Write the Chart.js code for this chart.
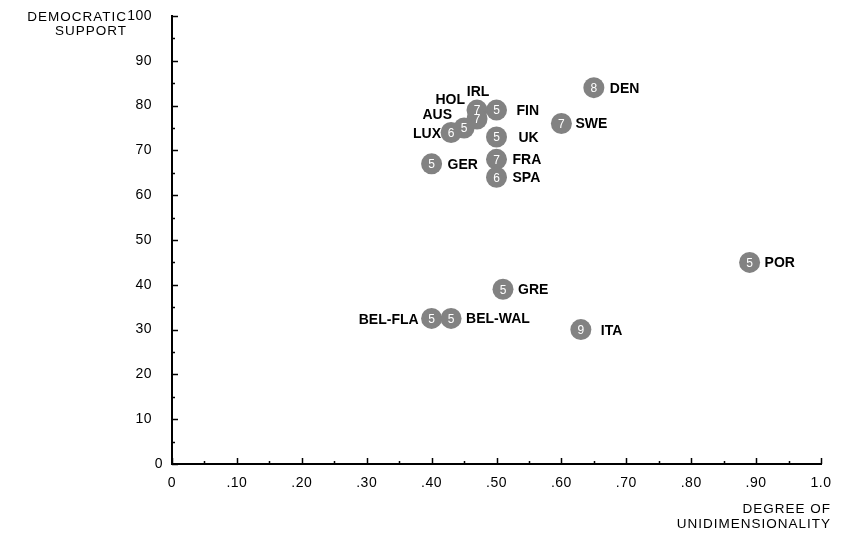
<!DOCTYPE html>
<html>
<head>
<meta charset="utf-8">
<style>
  html, body { margin: 0; padding: 0; background: #ffffff; }
  #wrap { width: 850px; height: 537px; }
</style>
<script src="https://cdn.jsdelivr.net/npm/chart.js@4/dist/chart.umd.min.js"></script>
</head>
<body>
<div id="wrap"><canvas id="chart" width="850" height="537"></canvas></div>
<script>
// Countries / regions
const countries = ['DEN', 'SWE', 'FIN', 'IRL', 'HOL', 'AUS', 'LUX', 'UK', 'FRA', 'SPA', 'GER',
                   'GRE', 'BEL-FLA', 'BEL-WAL', 'ITA', 'POR'];
// Degree of unidimensionality (x)
const unidimensionality = [0.65, 0.60, 0.50, 0.47, 0.47, 0.45, 0.43, 0.50, 0.50, 0.50, 0.40,
                           0.51, 0.40, 0.43, 0.63, 0.89];
// Democratic support (y)
const democraticSupport = [84, 76, 79, 79, 77, 75, 74, 73, 68, 64, 67,
                           39, 32.5, 32.5, 30, 45];
// Number printed inside each marker
const markerNumbers = [8, 7, 5, 7, 7, 5, 6, 5, 7, 6, 5,
                       5, 5, 5, 9, 5];
// Axis tick values
const xTicks = [0, 0.1, 0.2, 0.3, 0.4, 0.5, 0.6, 0.7, 0.8, 0.9, 1.0];
const yTicks = [0, 10, 20, 30, 40, 50, 60, 70, 80, 90, 100];

// Where each name sits relative to its marker: [dx, dy, align]
const labelPlacement = {
  'DEN': [16, 0, 'left'], 'SWE': [14, 0, 'left'], 'FIN': [20, 0, 'left'],
  'IRL': [1, -19, 'center'], 'HOL': [-12, -20, 'right'], 'AUS': [-12, -14, 'right'],
  'LUX': [-10, 1, 'right'], 'UK': [22, 0, 'left'], 'FRA': [16, 0, 'left'],
  'SPA': [16, 0, 'left'], 'GER': [16, 0, 'left'], 'GRE': [15, 0, 'left'],
  'BEL-FLA': [-13, 1, 'right'], 'BEL-WAL': [15, 0, 'left'], 'ITA': [20, 1, 'left'],
  'POR': [15, 0, 'left']
};

const points = unidimensionality.map((x, i) => ({ x: x, y: democraticSupport[i] }));
const FONT = '"Liberation Sans", Arial, Helvetica, sans-serif';

const fmtX = v => {
  if (Math.abs(v) < 1e-9) return '0';
  if (Math.abs(v - 1) < 1e-9) return '1.0';
  return v.toFixed(2).slice(1);
};

const decorations = {
  id: 'decorations',
  beforeDraw(chart) {
    chart.ctx.letterSpacing = '0.5px';
  },
  afterDatasetsDraw(chart) {
    const ctx = chart.ctx;
    const xs = chart.scales.x, ys = chart.scales.y;
    const x0 = xs.getPixelForValue(0), y0 = ys.getPixelForValue(0);
    ctx.save();
    ctx.strokeStyle = '#000';
    ctx.lineWidth = 1.5;
    // inward ticks on the x axis
    for (let k = 0; k <= 20; k++) {
      const v = k * 0.05;
      const px = Math.round(xs.getPixelForValue(v)) + 0.5;
      const len = (k % 2 === 0) ? 6 : 3;
      ctx.beginPath();
      ctx.moveTo(px, y0);
      ctx.lineTo(px, y0 - len);
      ctx.stroke();
    }
    // inward ticks on the y axis
    for (let k = 0; k <= 20; k++) {
      const v = k * 5;
      const py = Math.round(ys.getPixelForValue(v)) + 0.5;
      const len = (k % 2 === 0) ? 6 : 3;
      ctx.beginPath();
      ctx.moveTo(x0, py);
      ctx.lineTo(x0 + len, py);
      ctx.stroke();
    }
    // zero label of the y axis sits closer to the corner
    ctx.fillStyle = '#000';
    ctx.font = '14px ' + FONT;
    ctx.textAlign = 'right';
    ctx.textBaseline = 'middle';
    ctx.fillText(String(yTicks[0]), x0 - 9, y0);

    // numbers inside the markers
    const meta = chart.getDatasetMeta(0);
    ctx.letterSpacing = '0px';
    ctx.fillStyle = '#ffffff';
    ctx.font = '12px ' + FONT;
    ctx.textAlign = 'center';
    meta.data.forEach((el, i) => {
      ctx.fillText(String(markerNumbers[i]), el.x, el.y + 1);
    });
    // country names
    ctx.fillStyle = '#000000';
    ctx.font = 'bold 14px ' + FONT;
    meta.data.forEach((el, i) => {
      const p = labelPlacement[countries[i]];
      ctx.textAlign = p[2];
      ctx.fillText(countries[i], el.x + p[0], el.y + p[1] + 1);
    });
    // axis titles
    ctx.font = '13.5px ' + FONT;
    ctx.letterSpacing = '1px';
    ctx.textAlign = 'right';
    ctx.fillText('DEMOCRATIC', 127, 17);
    ctx.fillText('SUPPORT', 127, 31);
    ctx.fillText('DEGREE OF', 831, 509);
    ctx.fillText('UNIDIMENSIONALITY', 831, 524);
    ctx.restore();
  }
};

new Chart(document.getElementById('chart'), {
  type: 'scatter',
  data: {
    datasets: [{
      data: points,
      pointRadius: 10.5,
      pointHoverRadius: 10.5,
      pointBackgroundColor: '#828282',
      pointBorderWidth: 0,
      pointBorderColor: 'rgba(0,0,0,0)'
    }]
  },
  options: {
    responsive: false,
    animation: false,
    events: [],
    layout: { padding: { left: 0, right: 29, top: 16, bottom: 0 } },
    plugins: { legend: { display: false }, tooltip: { enabled: false } },
    scales: {
      x: {
        type: 'linear',
        min: 0, max: 1,
        afterBuildTicks: s => { s.ticks = xTicks.map(v => ({ value: v })); },
        afterFit: s => { s.height = 73; s.paddingLeft = 0; s.paddingRight = 0; },
        grid: { display: false, drawTicks: false },
        border: { display: true, color: '#000', width: 2 },
        ticks: {
          color: '#000',
          padding: 11,
          maxRotation: 0,
          autoSkip: false,
          font: { family: FONT, size: 14 },
          callback: v => fmtX(v)
        }
      },
      y: {
        type: 'linear',
        min: 0, max: 100,
        afterBuildTicks: s => { s.ticks = yTicks.map(v => ({ value: v })); },
        afterFit: s => { s.width = 172; s.paddingTop = 0; s.paddingBottom = 0; },
        grid: { display: false, drawTicks: false },
        border: { display: true, color: '#000', width: 2 },
        ticks: {
          color: '#000',
          padding: 20,
          autoSkip: false,
          font: { family: FONT, size: 14 },
          // the zero label is drawn separately, nearer the axis corner
          callback: v => (v === 0 ? '' : String(v))
        }
      }
    }
  },
  plugins: [decorations]
});
</script>
</body>
</html>
